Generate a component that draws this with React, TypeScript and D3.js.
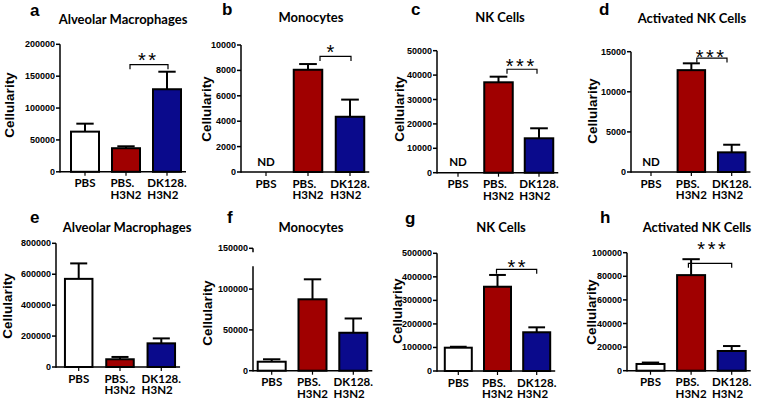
import React, { useEffect, useRef } from "react";
import * as d3 from "d3";

// ---------- data ----------
const categoryLines: string[][] = [["PBS"], ["PBS.", "H3N2"], ["DK128.", "H3N2"]];
const panelLetters = ["a", "b", "c", "d", "e", "f", "g", "h"];
const panelTitles = [
  "Alveolar Macrophages",
  "Monocytes",
  "NK Cells",
  "Activated NK Cells",
  "Alveolar Macrophages",
  "Monocytes",
  "NK Cells",
  "Activated NK Cells",
];
const yLabel = "Cellularity";
const ndLabel = "ND";
const yMax = [200000, 10000, 50000, 15000, 800000, 150000, 500000, 100000];
const yStep = [50000, 2000, 10000, 5000, 200000, 50000, 100000, 20000];

const meansA = [63000, 37000, 129500];
const errA = [12500, 3000, 27500];
const meansB = [null, 8050, 4350];
const errB = [null, 450, 1350];
const meansC = [null, 37050, 14100];
const errC = [null, 2300, 4100];
const meansD = [null, 12700, 2450];
const errD = [null, 850, 950];
const meansE = [570000, 50000, 153000];
const errE = [100000, 15000, 32000];
const meansF = [11000, 87500, 46500];
const errF = [3000, 24500, 17500];
const meansG = [99000, 358000, 164500];
const errG = [4000, 50000, 21000];
const meansH = [5700, 81000, 16700];
const errH = [1200, 13500, 4200];

const allMeans = [meansA, meansB, meansC, meansD, meansE, meansF, meansG, meansH];
const allErrs = [errA, errB, errC, errD, errE, errF, errG, errH];

const significance = ["**", "*", "***", "***", "", "", "**", "***"];
const sigLevel = [168000, 9100, 42400, 14200, 0, 0, 432000, 91000];

// ---------- layout / style ----------
const barColors = ["#ffffff", "#a00000", "#0a0a8c"];

type L = {
  ax: number; y0: number; y1: number; c0: number; c2: number; bw: number;
  letter: [number, number]; title: [number, number]; lab: [number, number];
  br?: [number, number]; starDx?: number; starDy?: number; axisTop?: number;
};
const layout: L[] = [
  { ax: 60, y0: 171.8, y1: 44.3, c0: 85, c2: 167, bw: 28, letter: [30, 16], title: [123, 24], lab: [9, 105], br: [4, 1], starDx: -2, starDy: -9 },
  { ax: 241, y0: 172, y1: 45, c0: 266, c2: 350, bw: 28.5, letter: [222, 15], title: [311, 22], lab: [206, 109], br: [12, 1], starDx: -5, starDy: -9 },
  { ax: 437, y0: 172.7, y1: 50.7, c0: 458, c2: 539, bw: 28.5, letter: [411, 15], title: [500, 22], lab: [399, 109], br: [8.5, -2], starDx: -2, starDy: -7.6 },
  { ax: 631, y0: 172, y1: 51.7, c0: 651, c2: 731.7, bw: 27.5, letter: [599, 15], title: [692, 23], lab: [592.5, 111], br: [5.5, -4.7], starDx: -2, starDy: -6 },
  { ax: 56, y0: 367, y1: 243.3, c0: 78.7, c2: 161.3, bw: 27.5, letter: [30, 223], title: [127, 232], lab: [7.5, 306] },
  { ax: 253, y0: 370.7, y1: 248.3, c0: 271.7, c2: 353.3, bw: 28, letter: [227, 223], title: [311, 232], lab: [207.5, 313], axisTop: 128000 },
  { ax: 437, y0: 371, y1: 253.3, c0: 458.3, c2: 536.7, bw: 27, letter: [405, 224], title: [501, 232], lab: [397, 311], br: [-1, 0], starDx: 0, starDy: -7 },
  { ax: 627, y0: 370.7, y1: 252.7, c0: 650.5, c2: 731.7, bw: 28, letter: [600, 223], title: [697, 232], lab: [591, 312], br: [-2.7, 0], starDx: 1.5, starDy: -19 },
];

const FONT_SANS = "'Liberation Sans', Arial, sans-serif";
const FONT_CAL = "Lato, 'Open Sans', sans-serif";

export default function App() {
  const ref = useRef<SVGSVGElement>(null);
  useEffect(() => {
    const svg = d3.select(ref.current);
    svg.selectAll("*").remove();
    const ctx = document.createElement("canvas").getContext("2d")!;
    const measure = (t: string, font: string) => {
      ctx.font = font;
      return ctx.measureText(t).width;
    };
    const catFontSize = 11.5;
    const catFont = `bold ${catFontSize}px Lato`;

    layout.forEach((Lp, i) => {
      const g = svg.append("g");
      const y = d3.scaleLinear().domain([0, yMax[i]]).range([Lp.y0, Lp.y1]);
      const x = d3.scalePoint<number>().domain([0, 1, 2]).range([Lp.c0, Lp.c2]);
      const means = allMeans[i];
      const errs = allErrs[i];
      const xEnd = (x(2) as number) + Lp.bw / 2 + 5;

      // panel letter
      g.append("text")
        .attr("x", Lp.letter[0]).attr("y", Lp.letter[1])
        .attr("font-family", FONT_SANS).attr("font-weight", "bold").attr("font-size", 17)
        .text(panelLetters[i]);
      // title
      g.append("text")
        .attr("x", Lp.title[0]).attr("y", Lp.title[1])
        .attr("text-anchor", "middle")
        .attr("font-family", FONT_CAL).attr("font-weight", "bold").attr("font-size", 13)
        .text(panelTitles[i]);
      // y label
      g.append("text")
        .attr("transform", `translate(${Lp.lab[0]},${Lp.lab[1]}) rotate(-90)`)
        .attr("text-anchor", "middle").attr("dominant-baseline", "central")
        .attr("font-family", FONT_SANS).attr("font-weight", "bold").attr("font-size", 13.5)
        .text(yLabel);

      // y axis
      const ticks = d3.range(0, yMax[i] + 1, yStep[i]);
      const axTop = Lp.axisTop !== undefined ? y(Lp.axisTop) : y(yMax[i]);
      g.append("line")
        .attr("x1", Lp.ax).attr("x2", Lp.ax).attr("y1", Lp.y0 + 0.75).attr("y2", axTop)
        .attr("stroke", "#000").attr("stroke-width", 1.5);
      if (Lp.axisTop !== undefined) {
        g.append("path")
          .attr("d", `M${Lp.ax},${y(yMax[i])} V${y(yMax[i]) + 4}`)
          .attr("stroke", "#000").attr("stroke-width", 1.5).attr("fill", "none");
      }
      ticks.forEach((t) => {
        g.append("line")
          .attr("x1", Lp.ax - 4).attr("x2", Lp.ax).attr("y1", y(t)).attr("y2", y(t))
          .attr("stroke", "#000").attr("stroke-width", 1.5);
        g.append("text")
          .attr("x", Lp.ax - 5).attr("y", y(t))
          .attr("text-anchor", "end").attr("dominant-baseline", "central")
          .attr("font-family", FONT_SANS).attr("font-weight", "bold").attr("font-size", 9)
          .text(String(t));
      });

      // x axis
      g.append("line")
        .attr("x1", Lp.ax).attr("x2", xEnd).attr("y1", Lp.y0).attr("y2", Lp.y0)
        .attr("stroke", "#000").attr("stroke-width", 1.5);
      [0, 1, 2].forEach((c) => {
        g.append("line")
          .attr("x1", x(c) as number).attr("x2", x(c) as number)
          .attr("y1", Lp.y0).attr("y2", Lp.y0 + 4)
          .attr("stroke", "#000").attr("stroke-width", 1.2);
        const lines = categoryLines[c];
        const bw = Math.max(...lines.map((l) => measure(l, catFont)));
        const sx = (x(c) as number) - bw / 2;
        lines.forEach((l, k) => {
          g.append("text")
            .attr("x", sx).attr("y", Lp.y0 + 15.5 + k * 11.5)
            .attr("font-family", FONT_CAL).attr("font-weight", "bold").attr("font-size", catFontSize)
            .text(l);
        });
      });

      // bars
      means.forEach((m, c) => {
        const cx = x(c) as number;
        if (m === null) {
          g.append("text")
            .attr("x", cx).attr("y", Lp.y0 - 6.5)
            .attr("text-anchor", "middle")
            .attr("font-family", FONT_CAL).attr("font-weight", "bold").attr("font-size", 11.5)
            .text(ndLabel);
          return;
        }
        const e = errs[c] as number;
        const capW = Lp.bw * 0.62;
        g.append("line")
          .attr("x1", cx).attr("x2", cx).attr("y1", y(m)).attr("y2", y(m + e))
          .attr("stroke", "#000").attr("stroke-width", 2);
        g.append("line")
          .attr("x1", cx - capW / 2).attr("x2", cx + capW / 2).attr("y1", y(m + e)).attr("y2", y(m + e))
          .attr("stroke", "#000").attr("stroke-width", 2);
        g.append("rect")
          .attr("x", cx - Lp.bw / 2).attr("y", y(m))
          .attr("width", Lp.bw).attr("height", Lp.y0 - y(m))
          .attr("fill", barColors[c]).attr("stroke", "#000").attr("stroke-width", 2);
      });

      // significance
      if (significance[i] && Lp.br) {
        const yb = y(sigLevel[i]);
        const x1 = (x(1) as number) + Lp.br[0];
        const x2 = (x(2) as number) + Lp.br[1];
        g.append("path")
          .attr("d", `M${x1},${yb + 4.5} V${yb} H${x2} V${yb + 4.5}`)
          .attr("fill", "none").attr("stroke", "#000").attr("stroke-width", 1.2);
        const ls = 2.5;
        g.append("text")
          .attr("x", (x1 + x2) / 2 + (Lp.starDx || 0) + ls / 2)
          .attr("y", yb + (Lp.starDy || 0) + 11.5)
          .attr("text-anchor", "middle")
          .attr("font-family", FONT_SANS).attr("font-size", 20)
          .attr("letter-spacing", ls)
          .text(significance[i]);
      }
    });
  }, []);
  return (
    <svg
      ref={ref}
      width={760}
      height={400}
      style={{ position: "absolute", left: 0, top: 0, background: "#fff" }}
    />
  );
}
